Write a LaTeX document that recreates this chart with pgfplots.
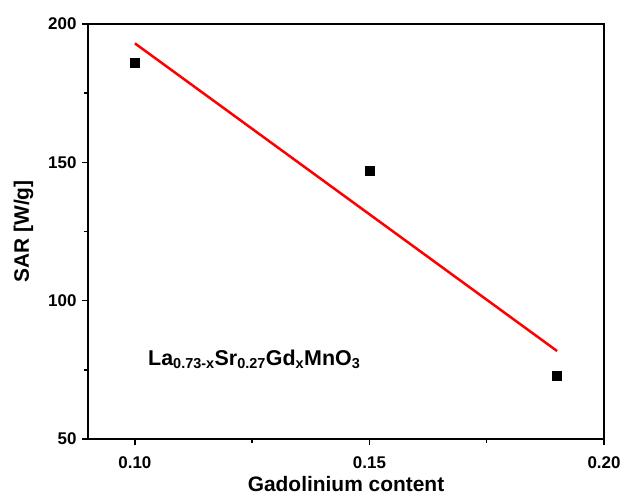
\documentclass[border=0pt]{standalone}
\usepackage{fontspec}
\setmainfont{Liberation Sans}
\usepackage{pgfplots}
\pgfplotsset{compat=1.18}
\newcommand{\sub}[1]{$_{\textbf{\fontsize{14.5}{16}\selectfont #1}}$}
\begin{document}
\begin{tikzpicture}
\begin{axis}[
  scale only axis,
  width=516bp, height=415bp,
  xmin=0.09, xmax=0.20, ymin=50, ymax=200,
  xtick={0.10,0.15,0.20},
  xticklabels={0.10,0.15,0.20},
  ytick={50,100,150,200},
  minor xtick={0.125,0.175},
  minor ytick={75,125,175},
  tick align=outside,
  tick pos=left,
  major tick length=6bp,
  minor tick length=4bp,
  every tick/.style={black, line width=1.5bp},
  axis line style={line width=2bp},
  /pgf/number format/assume math mode=true,
  ticklabel style={font=\fontsize{17}{19}\selectfont\bfseries},
  xticklabel style={yshift=-8bp},
  yticklabel style={xshift=-2bp},
  xlabel={Gadolinium content},
  ylabel={SAR [W/g]},
  label style={font=\fontsize{21}{24}\selectfont\bfseries},
  xlabel style={inner sep=0pt, yshift=-4bp},
  ylabel style={yshift=8bp},
  clip=false,
]
\addplot[only marks, mark=square*, mark size=4.5bp, black] coordinates {
  (0.10,186) (0.15,147) (0.19,73)
};
\addplot[red, line width=2.5bp] coordinates {
  (0.10,193.0) (0.19,81.8)
};
\node[anchor=base west, inner sep=0pt, font=\fontsize{21.5}{24}\selectfont\bfseries] at (axis cs:0.1028,76.7)
  {La\sub{0.73-x}Sr\sub{0.27}Gd\sub{x}MnO\sub{3}};
\end{axis}
\pgfresetboundingbox
\path[use as bounding box] ([shift={(-88bp,-58bp)}]current axis.south west) rectangle ([shift={(18bp,24bp)}]current axis.north east);
\end{tikzpicture}
\end{document}
